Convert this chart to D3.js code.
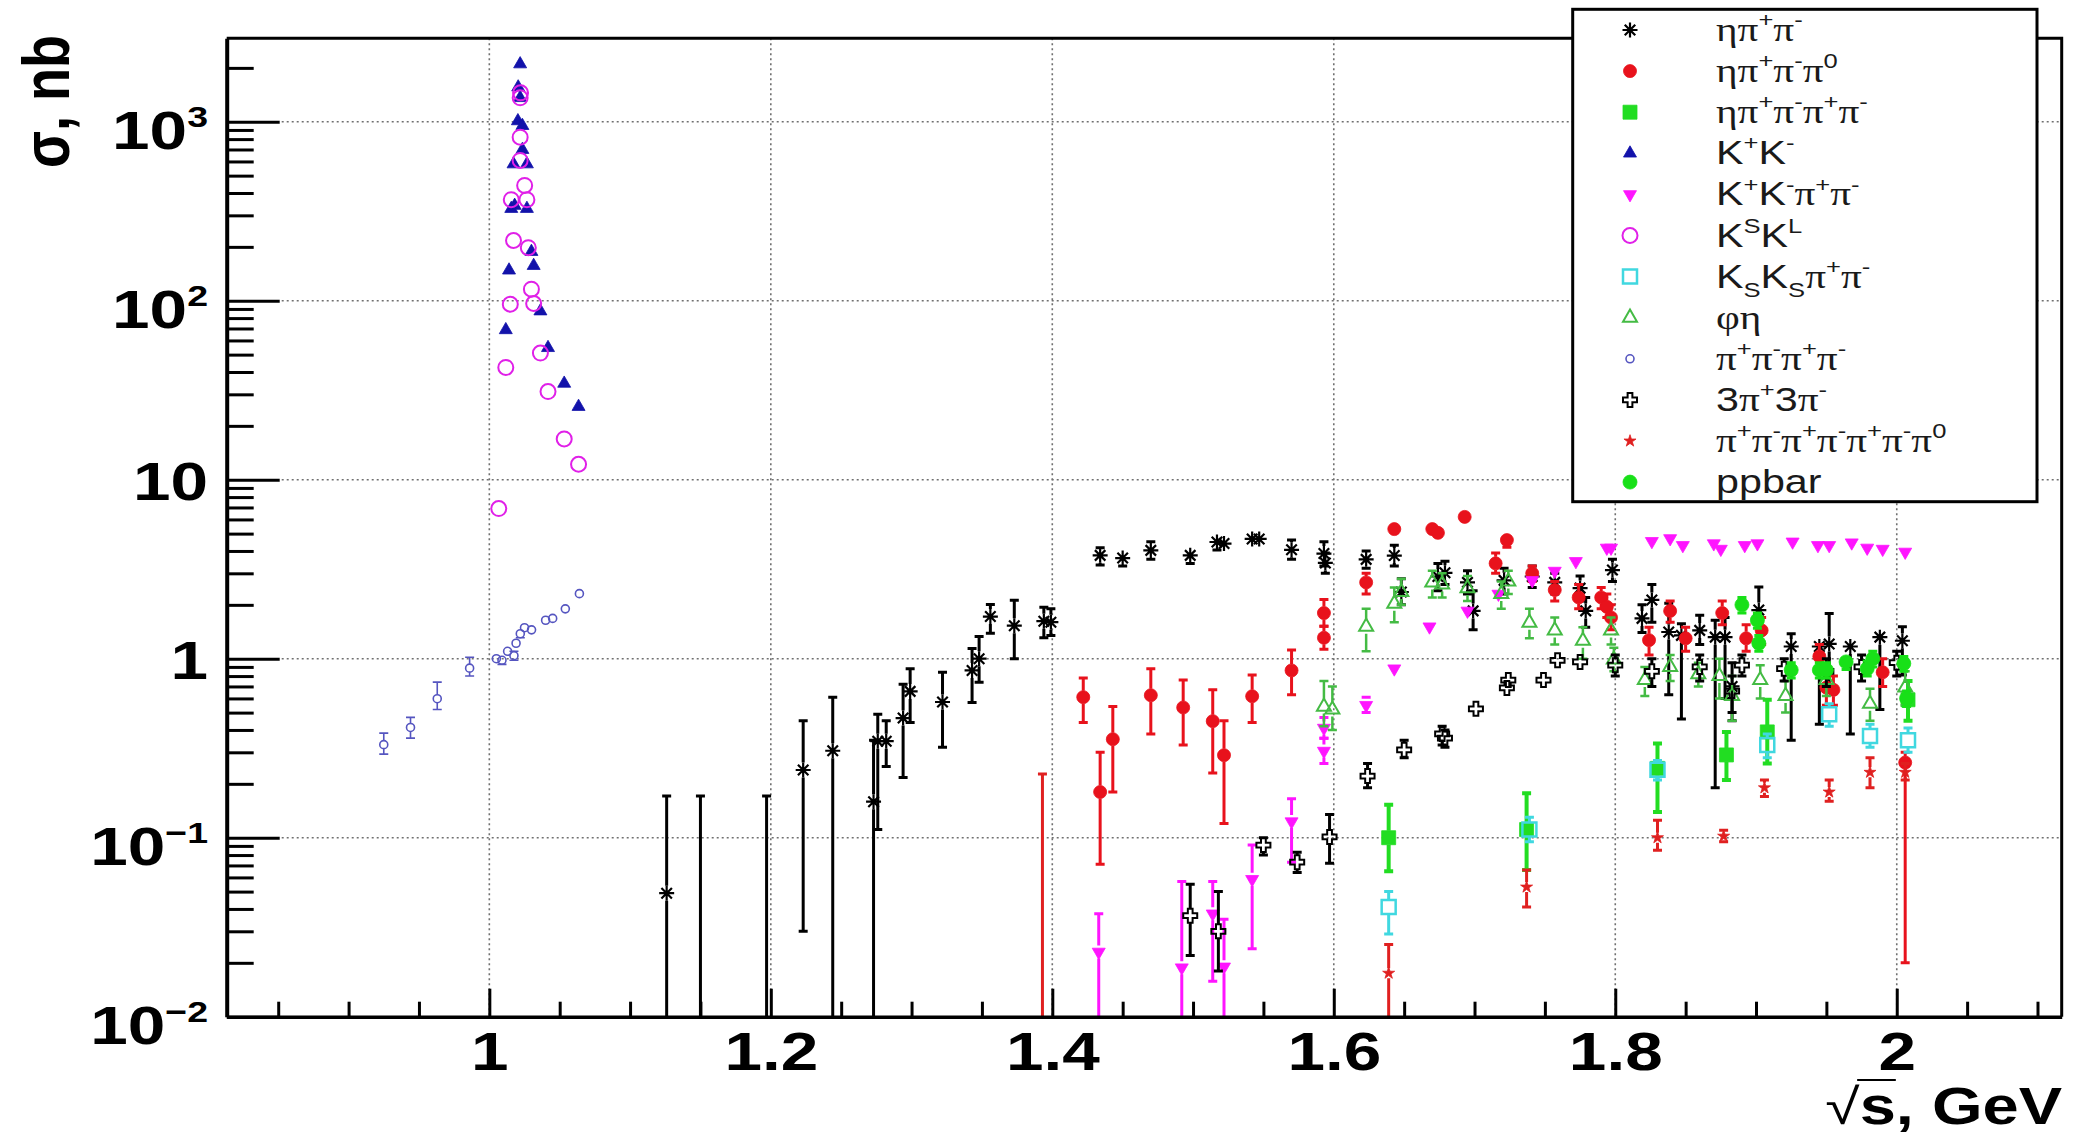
<!DOCTYPE html>
<html><head><meta charset="utf-8">
<script src="https://cdn.jsdelivr.net/npm/d3@7"></script>
<style>html,body{margin:0;padding:0;background:#fff;} svg{display:block}</style>
</head><body>
<svg id="c" width="2088" height="1139"></svg>
<script>
// ---------------- DATA ([sqrt(s) GeV, sigma nb, lower, upper]) ----------------
const etaPiPi = [
 [1.126,0.049,0.005,0.171],[1.150,0.005,0.001,0.171],[1.197,0.005,0.001,0.171],
 [1.223,0.239,0.030,0.45],[1.244,0.306,0.001,0.61],[1.273,0.159,0.001,0.35],
 [1.276,0.346,0.111,0.49],[1.282,0.346,0.25,0.45],[1.294,0.466,0.217,0.72],
 [1.299,0.657,0.44,0.88],[1.322,0.573,0.32,0.84],[1.343,0.86,0.57,1.14],
 [1.348,1.0,0.74,1.33],[1.356,1.72,1.39,2.01],[1.373,1.53,1.0,2.12],
 [1.394,1.62,1.31,1.94],[1.399,1.60,1.35,1.90],[1.434,3.78,3.34,4.17],
 [1.450,3.65,3.3,4.0],[1.470,4.03,3.6,4.5],[1.498,3.78,3.4,4.1],
 [1.517,4.49,4.05,4.9],[1.522,4.4,4.0,4.8],[1.542,4.67,4.25,5.1],
 [1.547,4.67,4.3,5.0],[1.570,4.06,3.6,4.6],[1.593,3.87,3.3,4.5],
 [1.594,3.43,3.0,3.9],[1.623,3.59,3.2,4.0],[1.643,3.77,3.3,4.3],
 [1.648,2.36,2.0,2.8],[1.674,2.88,2.4,3.4],[1.679,3.02,2.6,3.5],
 [1.695,2.67,2.3,3.1],[1.699,1.85,1.45,2.4],[1.721,2.74,2.3,3.2],
 [1.741,2.88,2.5,3.3],[1.757,2.67,2.3,3.0],[1.775,2.48,2.1,2.9],
 [1.779,1.85,1.5,2.2],[1.798,3.13,2.7,3.6],[1.819,1.68,1.4,2.0],
 [1.826,2.13,1.6,2.6],[1.838,1.41,0.63,2.04],[1.847,1.35,0.46,1.57],
 [1.860,1.44,1.2,1.75],[1.871,1.32,0.19,1.64],[1.878,1.32,0.6,1.7],
 [1.883,0.70,0.45,0.95],[1.902,1.87,1.17,2.52],[1.925,1.17,0.35,1.38],
 [1.945,1.17,0.43,1.27],[1.952,1.21,0.70,1.79],[1.967,1.17,0.38,1.27],
 [1.988,1.32,0.52,1.45],[2.004,1.26,0.81,1.51]
];
const etaPiPiPi0 = [
 [1.422,0.61,0.44,0.78],[1.434,0.18,0.071,0.30],[1.443,0.355,0.18,0.54],
 [1.470,0.625,0.38,0.88],[1.493,0.534,0.33,0.76],[1.514,0.448,0.23,0.67],
 [1.522,0.289,0.12,0.45],[1.542,0.617,0.44,0.81],[1.570,0.86,0.63,1.12],
 [1.593,1.80,1.52,2.14],[1.593,1.31,1.13,1.52],[1.623,2.67,2.3,3.0],
 [1.643,5.3,4.9,5.7],[1.670,5.3,5.0,5.6],[1.674,5.05,4.7,5.4],
 [1.693,6.2,5.9,6.5],[1.715,3.41,3.0,3.9],[1.723,4.6,4.2,5.0],
 [1.741,3.0,2.7,3.3],[1.757,2.42,2.1,2.7],[1.774,2.2,1.9,2.6],
 [1.790,2.2,1.9,2.5],[1.794,1.95,1.7,2.3],[1.797,1.7,1.45,2.0],
 [1.824,1.27,1.05,1.5],[1.839,1.85,1.6,2.1],[1.850,1.3,1.1,1.5],
 [1.876,1.8,1.55,2.1],[1.893,1.3,1.1,1.55],[1.904,1.44,1.2,1.7],
 [1.945,1.03,0.9,1.2],[1.950,0.69,0.55,0.85],[1.955,0.67,0.55,0.8],
 [1.990,0.84,0.7,1.0],[2.006,0.263,0.02,0.30]
];
const etaPiPiPiPi = [
 [1.639,0.10,0.065,0.153],[1.737,0.111,0.066,0.177],[1.830,0.244,0.139,0.336],
 [1.879,0.29,0.21,0.39],[1.908,0.39,0.26,0.59],[2.008,0.59,0.45,0.75]
];
const kPlusKMinus = [
 [1.0117,68.7],[1.0140,148],[1.0156,327],[1.0172,580],[1.0180,340],[1.0203,1010],
 [1.0205,1560],[1.0219,2100],[1.0219,1360],[1.0235,950],[1.0235,698],[1.0267,580],
 [1.0267,327],[1.0299,188],[1.0315,157],[1.0363,87.5],[1.0417,54.6],[1.0532,34.5],
 [1.0634,25.6]
];
const kkPiPi = [
 [1.433,0.023,0.005,0.0376],[1.492,0.0188,0.005,0.057],[1.514,0.0376,0.0158,0.057],
 [1.522,0.019,0.005,0.035],[1.542,0.0586,0.024,0.091],[1.570,0.123,0.073,0.165],
 [1.593,0.305,0.26,0.36],[1.593,0.41,0.36,0.47],[1.623,0.55,0.50,0.61],
 [1.643,0.88,0.82,0.95],[1.668,1.51,1.4,1.62],[1.695,1.85,1.72,1.98],
 [1.717,2.3,2.15,2.45],[1.741,2.74,2.6,2.9],[1.757,3.09,2.95,3.25],
 [1.772,3.5,3.35,3.65],[1.794,4.16,4.0,4.35],[1.797,4.16,4.0,4.35],
 [1.826,4.53,4.35,4.7],[1.839,4.7,4.5,4.9],[1.848,4.3,4.1,4.5],
 [1.870,4.4,4.2,4.6],[1.875,4.1,3.9,4.3],[1.892,4.3,4.1,4.5],
 [1.901,4.4,4.2,4.6],[1.926,4.5,4.3,4.7],[1.944,4.3,4.1,4.5],
 [1.952,4.3,4.1,4.5],[1.968,4.45,4.25,4.65],[1.979,4.16,4.0,4.35],
 [1.990,4.1,3.9,4.3],[2.006,3.95,3.75,4.15]
];
const kSkL = [
 [1.0067,6.9],[1.0117,42.4],[1.0149,95.6],[1.0156,367],[1.0172,217],[1.0219,608],
 [1.0219,820],[1.0219,1360],[1.0222,1450],[1.0251,441],[1.0267,367],[1.0277,198],
 [1.0299,116],[1.0315,96.5],[1.0363,51],[1.0417,31.1],[1.0532,16.9],[1.0634,12.2]
];
const ksKsPiPi = [
 [1.639,0.041,0.029,0.05],[1.739,0.111,0.095,0.13],[1.830,0.24,0.21,0.27],
 [1.908,0.33,0.28,0.38],[1.952,0.49,0.42,0.56],[1.981,0.37,0.32,0.43],
 [2.008,0.35,0.30,0.41]
];
const phiEta = [
 [1.593,0.54,0.42,0.75],[1.599,0.52,0.40,0.70],[1.623,1.51,1.1,1.9],
 [1.643,2.03,1.6,2.5],[1.648,2.36,2.0,2.8],[1.670,2.67,2.2,3.1],
 [1.677,2.6,2.2,3.0],[1.695,2.48,2.1,2.9],[1.719,2.3,1.9,2.7],
 [1.724,2.7,2.3,3.1],[1.739,1.59,1.3,1.9],[1.757,1.44,1.2,1.7],
 [1.777,1.26,1.0,1.5],[1.797,1.44,1.2,1.7],[1.799,0.99,0.85,1.15],
 [1.821,0.76,0.62,0.9],[1.839,0.90,0.75,1.05],[1.859,0.82,0.7,0.95],
 [1.874,0.80,0.6,1.0],[1.883,0.62,0.45,0.8],[1.903,0.76,0.6,0.92],
 [1.921,0.62,0.5,0.75],[1.950,0.76,0.62,0.9],[1.981,0.56,0.45,0.68],
 [2.006,0.69,0.55,0.85]
];
const fourPi = [
 [0.925,0.331,0.293,0.384],[0.944,0.413,0.36,0.47],[0.963,0.598,0.52,0.74],
 [0.986,0.886,0.80,1.02],[1.005,1.0,0.95,1.05],[1.009,0.98,0.93,1.03],
 [1.013,1.10,1.05,1.15],[1.0175,1.04,0.98,1.10],[1.019,1.22,1.16,1.28],
 [1.022,1.38,1.31,1.45],[1.025,1.49,1.42,1.56],[1.030,1.45,1.39,1.52],
 [1.040,1.64,1.58,1.70],[1.045,1.68,1.62,1.74],[1.054,1.90,1.84,1.96],
 [1.064,2.31,2.24,2.38]
];
const sixPi = [
 [1.498,0.0367,0.022,0.055],[1.518,0.030,0.018,0.05],[1.550,0.091,0.08,0.10],
 [1.574,0.073,0.064,0.083],[1.597,0.101,0.072,0.135],[1.624,0.221,0.19,0.26],
 [1.650,0.31,0.28,0.35],[1.677,0.38,0.33,0.42],[1.679,0.36,0.32,0.40],
 [1.701,0.525,0.48,0.57],[1.723,0.687,0.63,0.75],[1.724,0.76,0.70,0.82],
 [1.749,0.76,0.70,0.82],[1.759,0.98,0.92,1.05],[1.775,0.96,0.90,1.03],
 [1.800,0.92,0.8,1.05],[1.826,0.85,0.7,1.0],[1.860,0.90,0.75,1.05],
 [1.883,0.66,0.5,0.8],[1.890,0.92,0.8,1.05],[1.920,0.88,0.75,1.0],
 [1.950,0.85,0.7,1.0],[1.975,0.90,0.75,1.05],[2.000,0.95,0.8,1.1]
];
const sevenPi = [
 [1.393,0.008,0.008,0.227],[1.639,0.0175,0.005,0.0253],[1.737,0.053,0.041,0.066],
 [1.830,0.10,0.085,0.125],[1.877,0.102,0.095,0.11],[1.906,0.19,0.17,0.21],
 [1.952,0.18,0.16,0.21],[1.981,0.232,0.19,0.28],[2.006,0.232,0.21,0.26]
];
const pPbar = [
 [1.890,2.0,1.8,2.2],[1.901,1.64,1.48,1.8],[1.902,1.22,1.1,1.35],
 [1.925,0.865,0.78,0.95],[1.945,0.865,0.78,0.95],[1.950,0.865,0.78,0.95],
 [1.964,0.96,0.87,1.05],[1.979,0.88,0.8,0.97],[1.983,1.0,0.9,1.1],
 [2.005,0.94,0.85,1.03],[2.007,0.60,0.54,0.66]
];

const legendLabels = ["ηπ^+π^-","ηπ^+π^-π^0","ηπ^+π^-π^+π^-","K^+K^-","K^+K^-π^+π^-","K^SK^L",
  "K_SK_Sπ^+π^-","φη","π^+π^-π^+π^-","3π^+3π^-","π^+π^-π^+π^-π^+π^-π^0","ppbar"];
const xMajorTicks = [1,1.2,1.4,1.6,1.8,2];
const xMajorLabels = ["1","1.2","1.4","1.6","1.8","2"];
const yMajorTicks = [0.01,0.1,1,10,100,1000];
const yLabelBase = ["10","10","1","10","10","10"];
const yLabelExp  = ["\u22122","\u22121","","","2","3"];
const xTitle = ["\u221A","s",", GeV"];
const yTitle = "σ, nb";

// ---------------- STYLES ----------------
const styles = [
 {shape:"asterisk", color:"#000000", size:15, sw:2.2, ew:3},
 {shape:"circle", color:"#e8121c", size:13, filled:true, ew:3},
 {shape:"square", color:"#22dd22", size:14, filled:true, ew:4},
 {shape:"triUp", color:"#1212aa", size:13, filled:true, ew:2},
 {shape:"triDown", color:"#ff14ff", size:13, filled:true, ew:3},
 {shape:"circle", color:"#e020e8", size:15, sw:2, ew:2},
 {shape:"square", color:"#40d8e0", size:14, sw:2.5, ew:3},
 {shape:"triUp", color:"#44bb44", size:14, sw:2, ew:2.5},
 {shape:"circle", color:"#5555c0", size:8, sw:1.6, ew:1.6},
 {shape:"cross", color:"#000000", size:14, sw:2, ew:3},
 {shape:"star", color:"#e02020", size:10, filled:true, ew:3},
 {shape:"circle", color:"#18e018", size:14, filled:true, ew:3}
];
const allData = [etaPiPi, etaPiPiPi0, etaPiPiPiPi, kPlusKMinus, kkPiPi, kSkL, ksKsPiPi, phiEta, fourPi, sixPi, sevenPi, pPbar];

// ---------------- LAYOUT ----------------
const L=226.7, R=2061.7, T=38.3, B=1016.7;
const SX=1.25;
const FONT="'Liberation Sans', Arial, Helvetica, sans-serif";
const GFONT="'Liberation Serif','DejaVu Serif',serif";
const x = d3.scaleLinear().domain([0.8134, 2.1172]).range([L,R]);
const y = d3.scaleLog().domain([0.01, 2926]).range([B,T]);

const svg = d3.select("#c");
svg.append("rect").attr("width",2088).attr("height",1139).attr("fill","#fff");

// grid
const grid = svg.append("g").attr("stroke","#707070").attr("stroke-width",1.6).attr("stroke-dasharray","2,3");
grid.selectAll(".gx").data(xMajorTicks).join("line").attr("class","gx")
  .attr("x1",d=>x(d)).attr("x2",d=>x(d)).attr("y1",T).attr("y2",B);
grid.selectAll(".gy").data(yMajorTicks.filter(d=>d>0.01)).join("line").attr("class","gy")
  .attr("x1",L).attr("x2",R).attr("y1",d=>y(d)).attr("y2",d=>y(d));

// markers
function markerPath(shape, s){
  const r=s/2;
  if(shape==="asterisk"){const a=0.7*r;return `M${-r},0H${r}M0,${-r}V${r}M${-a},${-a}L${a},${a}M${-a},${a}L${a},${-a}`;}
  if(shape==="circle") return d3.symbol(d3.symbolCircle, Math.PI*r*r)();
  if(shape==="square") return `M${-r},${-r}H${r}V${r}H${-r}Z`;
  if(shape==="triUp"){const h=s*0.866;return `M${-r},${h/3}L${r},${h/3}L0,${-2*h/3}Z`;}
  if(shape==="triDown"){const h=s*0.866;return `M${-r},${-h/3}L${r},${-h/3}L0,${2*h/3}Z`;}
  if(shape==="cross"){const w=s*0.17;return `M${-w},${-r}H${w}V${-w}H${r}V${w}H${w}V${r}H${-w}V${w}H${-r}V${-w}H${-w}Z`;}
  if(shape==="star") return d3.symbol(d3.symbolStar, s*s*0.45)();
}
function styleMarker(sel, st){
  sel.attr("d", markerPath(st.shape, st.size));
  if(st.shape==="asterisk") sel.attr("fill","none").attr("stroke",st.color).attr("stroke-width",st.sw);
  else if(st.filled) sel.attr("fill",st.color).attr("stroke",st.color).attr("stroke-width",0.8);
  else sel.attr("fill","none").attr("stroke",st.color).attr("stroke-width",st.sw);
}

svg.append("defs").append("clipPath").attr("id","plotclip")
  .append("rect").attr("x",L).attr("y",T).attr("width",R-L).attr("height",B-T);
const plot = svg.append("g").attr("clip-path","url(#plotclip)");

allData.forEach((data,si)=>{
  const st = styles[si];
  const g = plot.append("g");
  const withErr = data.filter(d=>d.length>=4);
  const gap = st.size/2;
  const cap = 4.5;
  const eg = g.append("g").attr("stroke",st.color).attr("stroke-width",st.ew).attr("fill","none");
  eg.selectAll("path").data(withErr).join("path").attr("d",d=>{
    const cx=x(d[0]), cy=y(d[1]), yh=y(d[3]), yl=y(Math.max(d[2],1e-4));
    let p="";
    if(cy-yh>gap) p+=`M${cx},${yh}V${cy-gap}M${cx-cap},${yh}H${cx+cap}`;
    if(yl-cy>gap) p+=`M${cx},${cy+gap}V${yl}M${cx-cap},${yl}H${cx+cap}`;
    return p;
  });
  g.selectAll(".m").data(data).join("path").attr("class","m")
    .attr("transform",d=>`translate(${x(d[0])},${y(d[1])})`)
    .call(styleMarker, st);
});

// axes
const fmtX = (d,i)=>xMajorLabels[i];
const xAxis = svg.append("g").attr("transform",`translate(0,${B})`)
  .call(d3.axisBottom(x).tickValues(xMajorTicks).tickSize(-28).tickSizeOuter(0).tickPadding(15).tickFormat(fmtX));
xAxis.attr("font-size",54).attr("font-family",FONT).attr("font-weight","bold");
xAxis.select(".domain").attr("stroke","#000").attr("stroke-width",3.5);
xAxis.selectAll(".tick line").attr("stroke","#000").attr("stroke-width",3);
xAxis.selectAll(".tick text").attr("fill","#000").attr("transform",`scale(${SX},1)`);

const xMinor = d3.range(17,43).map(i=>+(i*0.05).toFixed(2)).filter(v=>!xMajorTicks.some(m=>Math.abs(m-v)<1e-6));
const xMinorAxis = svg.append("g").attr("transform",`translate(0,${B})`)
  .call(d3.axisBottom(x).tickValues(xMinor).tickSize(-15).tickSizeOuter(0).tickFormat(""));
xMinorAxis.select(".domain").remove();
xMinorAxis.selectAll(".tick line").attr("stroke","#000").attr("stroke-width",3);

const yAxis = svg.append("g").attr("transform",`translate(${L},0)`)
  .call(d3.axisLeft(y).tickValues(yMajorTicks).tickSize(-53).tickSizeOuter(0).tickFormat(""));
yAxis.select(".domain").attr("stroke","#000").attr("stroke-width",4);
yAxis.selectAll(".tick line").attr("stroke","#000").attr("stroke-width",3);

const yMinor = [];
[-2,-1,0,1,2,3].forEach(k=>{for(let m=2;m<=9;m++){const v=m*Math.pow(10,k);if(v<2926)yMinor.push(v);}});
const yMinorAxis = svg.append("g").attr("transform",`translate(${L},0)`)
  .call(d3.axisLeft(y).tickValues(yMinor).tickSize(-27).tickSizeOuter(0).tickFormat(""));
yMinorAxis.select(".domain").remove();
yMinorAxis.selectAll(".tick line").attr("stroke","#000").attr("stroke-width",3);

// y tick labels
yMajorTicks.forEach((v,i)=>{
  const hasExp = yLabelExp[i]!=="";
  const g = svg.append("g").attr("transform",`translate(208,${y(v)+(hasExp?27:20)}) scale(${SX},1)`);
  const t = g.append("text").attr("text-anchor","end").attr("font-family",FONT).attr("font-weight","bold")
    .attr("font-size",54).attr("fill","#000");
  t.append("tspan").text(yLabelBase[i]);
  if(hasExp) t.append("tspan").attr("font-size",30).attr("dy",-22).text(yLabelExp[i]);
});

// frame
svg.append("path").attr("d",`M${L},${T}H${R}V${B}`).attr("fill","none").attr("stroke","#000").attr("stroke-width",3);

// axis titles
const yt = svg.append("g").attr("transform",`translate(69,35) scale(${SX},1) rotate(-90)`);
yt.append("text").attr("text-anchor","end").attr("font-family",FONT).attr("font-weight","bold")
  .attr("font-size",54).attr("fill","#000").text(yTitle);

const xtg = svg.append("g").attr("transform",`translate(2062,1124) scale(${SX},1)`);
const xt = xtg.append("text").attr("text-anchor","end").attr("font-family",FONT).attr("font-weight","bold")
  .attr("font-size",52).attr("fill","#000");
xt.append("tspan").attr("font-weight","normal").attr("font-size",50).text(xTitle[0]);
xt.append("tspan").text(xTitle[1]);
xt.append("tspan").text(xTitle[2]);
try{
  const n = xt.node();
  const e0 = n.getExtentOfChar(0), e1 = n.getExtentOfChar(1);
  xtg.append("line").attr("x1",e0.x+e0.width-2).attr("x2",e1.x+e1.width).attr("y1",-44).attr("y2",-44)
    .attr("stroke","#000").attr("stroke-width",2);
}catch(err){}

// legend
const LG = {x:1572.7, y:9.3, w:464.3, h:492.4};
const lg = svg.append("g");
lg.append("rect").attr("x",LG.x).attr("y",LG.y).attr("width",LG.w).attr("height",LG.h)
  .attr("fill","#fff").attr("stroke","#000").attr("stroke-width",3);
function richText(textSel, str, size){
  let shift=0;
  for(let i=0;i<str.length;i++){
    let ch=str[i], mode="n";
    if(ch==="^"||ch==="_"){mode=ch==="^"?"sup":"sub"; ch=str[++i];}
    const target = mode==="sup"? -0.42*size : mode==="sub"? 0.28*size : 0;
    const ts = textSel.append("tspan").attr("dy",target-shift)
      .attr("font-size", mode==="n"?size:size*0.62).text(ch);
    if(/[\u0370-\u03FF]/.test(ch)) ts.attr("font-family",GFONT);
    shift=target;
  }
}
legendLabels.forEach((lab,i)=>{
  const cy = 30 + i*41.1;
  lg.append("path").attr("transform",`translate(1630,${cy})`).call(styleMarker, styles[i]);
  const tg = lg.append("g").attr("transform",`translate(1716,${cy+11}) scale(${SX},1)`);
  const t = tg.append("text").attr("font-family",FONT).attr("fill","#1a1a1a");
  richText(t, lab, 33);
});
</script>
</body></html>
